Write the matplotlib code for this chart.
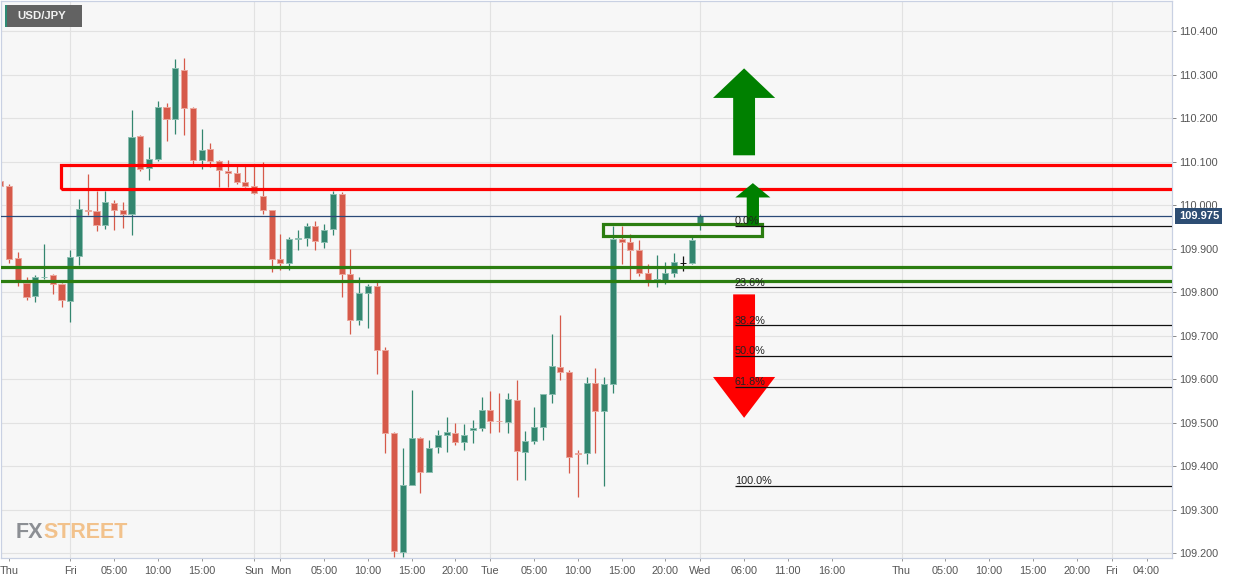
import numpy as np
import matplotlib
matplotlib.use('Agg')
import matplotlib.pyplot as plt
from matplotlib.patches import Rectangle, FancyArrow
from matplotlib.transforms import blended_transform_factory

plt.rcParams['font.family'] = ['Liberation Sans', 'DejaVu Sans']

# hourly USD/JPY candles, bar index 0 = Friday 00:00
first_bar = -8
opens = [110.056, 110.044, 109.879, 109.821, 109.792, 109.834, 109.839, 109.818,
         109.779, 109.883, 109.990, 109.986, 109.954, 110.006, 109.989, 109.981,
         110.159, 110.086, 110.106, 110.226, 110.199, 110.312, 110.224, 110.105,
         110.129, 110.101, 110.080, 110.074, 110.054, 110.044, 110.021, 109.989,
         109.876, 109.868, 109.922, 109.925, 109.952, 109.916, 109.945, 110.025,
         109.843, 109.736, 109.799, 109.814, 109.667, 109.475, 109.203, 109.356,
         109.464, 109.387, 109.443, 109.472, 109.475, 109.456, 109.484, 109.487,
         109.529, 109.504, 109.502, 109.553, 109.433, 109.458, 109.490, 109.565,
         109.628, 109.617, 109.430, 109.431, 109.590, 109.527, 109.588, 109.923,
         109.916, 109.898, 109.844, 109.829, 109.828, 109.844, 109.867, 109.868,
         109.958]
highs = [110.062, 110.048, 109.893, 109.835, 109.839, 109.912, 109.843, 109.821,
         109.898, 110.015, 110.073, 110.034, 110.032, 110.013, 110.008, 110.220,
         110.162, 110.133, 110.239, 110.236, 110.337, 110.340, 110.226, 110.176,
         110.143, 110.105, 110.105, 110.092, 110.092, 110.096, 110.100, 109.990,
         109.935, 109.927, 109.944, 109.959, 109.963, 109.958, 110.033, 110.031,
         109.900, 109.834, 109.818, 109.829, 109.673, 109.479, 109.441, 109.576,
         109.466, 109.461, 109.484, 109.512, 109.500, 109.496, 109.507, 109.559,
         109.572, 109.569, 109.569, 109.599, 109.480, 109.535, 109.565, 109.705,
         109.747, 109.621, 109.438, 109.604, 109.625, 109.604, 109.952, 109.952,
         109.935, 109.921, 109.864, 109.885, 109.870, 109.891, 109.883, 109.927,
         109.981]
lows = [110.034, 109.868, 109.814, 109.783, 109.778, 109.830, 109.797, 109.765,
        109.732, 109.862, 109.977, 109.940, 109.946, 109.944, 109.948, 109.931,
        110.078, 110.059, 110.102, 110.149, 110.163, 110.161, 110.092, 110.084,
        110.088, 110.042, 110.042, 110.048, 110.042, 110.027, 109.979, 109.847,
        109.851, 109.852, 109.898, 109.906, 109.897, 109.901, 109.931, 109.789,
        109.703, 109.724, 109.717, 109.611, 109.429, 109.190, 109.190, 109.356,
        109.339, 109.386, 109.431, 109.433, 109.448, 109.438, 109.454, 109.481,
        109.477, 109.479, 109.477, 109.369, 109.369, 109.451, 109.460, 109.546,
        109.599, 109.385, 109.328, 109.404, 109.431, 109.355, 109.569, 109.866,
        109.829, 109.837, 109.814, 109.812, 109.818, 109.834, 109.849, 109.864,
        109.944]
closes = [110.044, 109.876, 109.828, 109.789, 109.835, 109.836, 109.820, 109.782,
          109.881, 109.991, 109.986, 109.954, 110.008, 109.989, 109.981, 110.157,
          110.084, 110.106, 110.226, 110.199, 110.316, 110.224, 110.105, 110.128,
          110.102, 110.082, 110.074, 110.054, 110.044, 110.028, 109.989, 109.876,
          109.868, 109.922, 109.924, 109.952, 109.917, 109.944, 110.025, 109.843,
          109.736, 109.799, 109.814, 109.667, 109.475, 109.205, 109.356, 109.464,
          109.386, 109.442, 109.471, 109.478, 109.456, 109.471, 109.487, 109.529,
          109.504, 109.503, 109.554, 109.434, 109.457, 109.490, 109.565, 109.630,
          109.617, 109.420, 109.428, 109.590, 109.527, 109.588, 109.923, 109.916,
          109.898, 109.844, 109.828, 109.831, 109.844, 109.869, 109.867, 109.920,
          109.975]

tick_bars = [-7, 0, 5, 10, 15, 21, 24, 29, 34, 39, 44, 48, 53, 58, 63, 68, 72,
             77, 82, 87, 95, 100, 105, 110, 115, 119, 123]
tick_labels = ['Thu', 'Fri', '05:00', '10:00', '15:00', 'Sun', 'Mon', '05:00',
               '10:00', '15:00', '20:00', 'Tue', '05:00', '10:00', '15:00',
               '20:00', 'Wed', '06:00', '11:00', '16:00', 'Thu', '05:00',
               '10:00', '15:00', '20:00', 'Fri', '04:00']
day_bars = [0, 21, 24, 48, 72, 95, 119]

# drawn levels
resist_zone = (110.038, 110.093)
support_lines = [109.859, 109.825]
breakout_box = (109.930, 109.956)
fib_high, fib_low = 109.952, 109.355
fib_ratios = [0.0, 0.236, 0.382, 0.5, 0.618, 1.0]

GREEN, RED = '#33866f', '#d65a4a'
GREEN_EDGE, RED_EDGE = '#8cbfb1', '#eba79d'

fig = plt.figure(figsize=(12.43, 5.84), dpi=100)
ax = fig.add_axes([1 / 1243, 26 / 584, 1171 / 1243, 557 / 584])
ax.set_facecolor('#f7f7f7')

o = np.array(opens); h = np.array(highs); l = np.array(lows); c = np.array(closes)
x = np.arange(first_bar, first_bar + len(o))
up = c > o
down = c < o
body_col = np.where(up, GREEN, np.where(down, RED, '#111111'))
edge_col = np.where(up, GREEN_EDGE, np.where(down, RED_EDGE, '#111111'))

ax.vlines(x, l, h, colors=body_col, lw=0.9, zorder=2)
ax.bar(x, np.maximum(np.abs(c - o), 0.001), bottom=np.minimum(o, c), width=0.7,
       color=body_col, edgecolor=edge_col, linewidth=0.7, zorder=2.5)

# grid
for yv in np.arange(109.2, 110.45, 0.1):
    ax.axhline(yv, color='#e2e2e2', lw=0.8, zorder=0.5)
for d in day_bars:
    ax.axvline(d, color='#e2e2e2', lw=0.8, zorder=0.5)

xmin, xmax = -7.92, 125.9
ax.set_xlim(xmin, xmax)
ax.set_ylim(109.1885, 110.470)

# resistance zone and support lines
ax.add_patch(Rectangle((-1.06, resist_zone[0]), 300, resist_zone[1] - resist_zone[0],
                       fill=False, edgecolor='#ff0000', lw=2.3, zorder=4))
for s in support_lines:
    ax.axhline(s, color='#2b7d10', lw=2.3, zorder=4)
ax.add_patch(Rectangle((60.9, breakout_box[0]), 18.1, breakout_box[1] - breakout_box[0],
                       fill=False, edgecolor='#2b7d10', lw=2.3, zorder=4))

# current price
last = closes[-1]
ax.axhline(last, color='#2b4a78', lw=0.9, zorder=4.5)
tr = blended_transform_factory(ax.transAxes, ax.transData)
ax.text(1.0058, last, f'{last:.3f}', transform=tr, ha='left', va='center',
        fontsize=8, fontweight='bold', color='white', zorder=10, clip_on=False,
        bbox=dict(boxstyle='square,pad=0.3', fc='#2d4d73', ec='none'))

# arrows
ax.add_patch(FancyArrow(77.0, 110.115, 0, 0.200, width=2.5, head_width=7.1,
                        head_length=0.068, length_includes_head=True,
                        color='#008000', lw=0, zorder=5))
ax.add_patch(FancyArrow(78.0, 109.954, 0, 0.097, width=1.4, head_width=4.0,
                        head_length=0.033, length_includes_head=True,
                        color='#008000', lw=0, zorder=5))
ax.add_patch(FancyArrow(77.0, 109.795, 0, -0.284, width=2.5, head_width=7.1,
                        head_length=0.094, length_includes_head=True,
                        color='#ff0000', lw=0, zorder=5))

# fibonacci retracement
fib_start = 75.95
for r in fib_ratios:
    lvl = fib_high - (fib_high - fib_low) * r
    ax.hlines(lvl, fib_start, xmax, color='#111111', lw=0.9, zorder=6)
    ax.annotate(f'{r * 100:.1f}%', (fib_start, lvl), xytext=(0, 1.2),
                textcoords='offset points', ha='left', va='baseline',
                fontsize=7.8, color='#222222', zorder=6)

# axes styling
ax.yaxis.tick_right()
ax.set_yticks(np.arange(109.2, 110.45, 0.1))
ax.set_yticklabels([f'{v:.3f}' for v in np.arange(109.2, 110.45, 0.1)])
ax.set_xticks(tick_bars)
ax.set_xticklabels(tick_labels)
ax.tick_params(axis='y', length=3, width=0.7, color='#888888', pad=2.5,
               labelsize=7.8, labelcolor='#555555')
ax.tick_params(axis='x', length=2, width=0.7, color='#999999', pad=3.5,
               labelsize=7.8, labelcolor='#555555')
for sp in ax.spines.values():
    sp.set_color('#c9d1e3')
    sp.set_linewidth(0.9)

# symbol badge
ax.add_patch(Rectangle((0.0034, 0.9533), 0.0657, 0.0395, transform=ax.transAxes,
                       facecolor='#626262', edgecolor='none', zorder=8, clip_on=False))
ax.add_patch(Rectangle((0.0034, 0.9533), 0.0018, 0.0395, transform=ax.transAxes,
                       facecolor='#2e8b75', edgecolor='none', zorder=9, clip_on=False))
ax.text(0.0136, 0.9725, 'USD/JPY', transform=ax.transAxes, ha='left', va='center',
        fontsize=8.2, fontweight='bold', color='#f2f2f2', zorder=10)

# watermark
fx = ax.text(0.0128, 0.036, 'FX', transform=ax.transAxes, ha='left', va='baseline',
             fontsize=15.5, fontweight='bold', color='#8c8f94', zorder=1)
ax.annotate('STREET', xy=(1, 0), xycoords=fx, ha='left', va='bottom',
            fontsize=15.5, fontweight='bold', color='#f2c28c', zorder=1)

fig.savefig('out.png', dpi=100, facecolor='white')
